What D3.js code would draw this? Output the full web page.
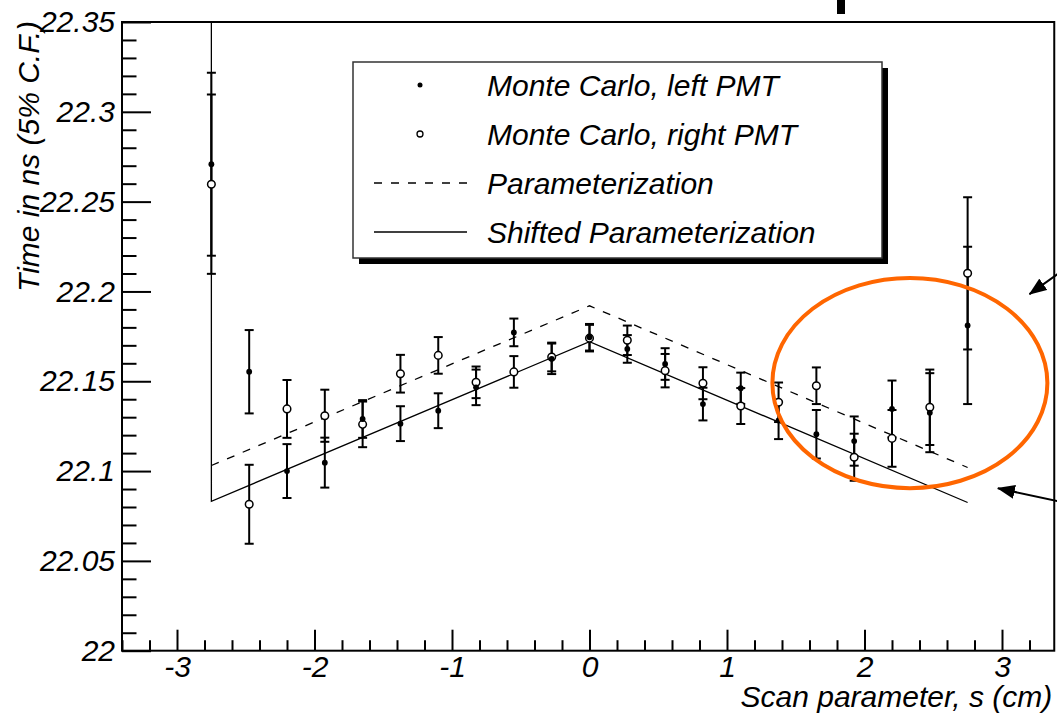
<!DOCTYPE html>
<html>
<head>
<meta charset="utf-8">
<script src="https://cdn.jsdelivr.net/npm/d3@7"></script>
<style>
  html, body { margin: 0; padding: 0; background: #fff; }
  svg { display: block; }
  text { font-family: "Liberation Sans", Arial, Helvetica, sans-serif; font-style: italic; fill: #000; }
</style>
</head>
<body>
<svg id="chart" width="1057" height="716"></svg>
<script>
// Scan positions (cm) of the simulated points
const scanS = [-2.75, -2.475, -2.2, -1.925, -1.65, -1.375, -1.1, -0.825, -0.55, -0.275,
               0, 0.275, 0.55, 0.825, 1.1, 1.375, 1.65, 1.925, 2.2, 2.475, 2.75];

// Monte Carlo, left PMT: time (ns) and error
const leftT   = [22.2708, 22.1553, 22.1000, 22.1047, 22.1290, 22.1264, 22.1336, 22.1466, 22.1772, 22.1625,
                 22.1745, 22.1680, 22.1596, 22.1373, 22.1461, 22.1282, 22.1205, 22.1167, 22.1346, 22.1325, 22.1811];
const leftErr = [0.0509, 0.0232, 0.0150, 0.0139, 0.0105, 0.0097, 0.0097, 0.0099, 0.0077, 0.0085,
                 0.0074, 0.0077, 0.0088, 0.0091, 0.0087, 0.0104, 0.0135, 0.0137, 0.0158, 0.0220, 0.0438];

// Monte Carlo, right PMT: time (ns) and error
const rightT   = [22.2597, 22.0815, 22.1346, 22.1308, 22.1260, 22.1542, 22.1644, 22.1494, 22.1552, 22.1635,
                  22.1740, 22.1728, 22.1559, 22.1489, 22.1362, 22.1383, 22.1475, 22.1077, 22.1182, 22.1355, 22.2101];
const rightErr = [0.0499, 0.0220, 0.0161, 0.0145, 0.0127, 0.0105, 0.0102, 0.0088, 0.0088, 0.0080,
                  0.0074, 0.0082, 0.0093, 0.0089, 0.0100, 0.0110, 0.0102, 0.0131, 0.0158, 0.0210, 0.0424];

// Parameterization and shifted parameterization (piecewise linear)
const paramS   = [-2.75, 0, 2.75];
const paramT   = [22.1031, 22.1920, 22.1020];
const shiftedS = [-2.75, -2.75, 0, 2.75];
const shiftedT = [22.40, 22.0832, 22.1720, 22.0825];

// Axis ticks
const xTickValues = [-3, -2, -1, 0, 1, 2, 3];
const xTickLabels = ["-3", "-2", "-1", "0", "1", "2", "3"];
const yTickValues = [22, 22.05, 22.1, 22.15, 22.2, 22.25, 22.3, 22.35];
const yTickLabels = ["22", "22.05", "22.1", "22.15", "22.2", "22.25", "22.3", "22.35"];

const legendLabels = ["Monte Carlo, left PMT", "Monte Carlo, right PMT", "Parameterization", "Shifted Parameterization"];

// Highlighted region (data units) and the two pointer arrows
const highlight = { s: 2.33, t: 22.149, ds: 1.0, dt: 0.0585 };
const arrows = [
  { from: [3.42, 22.2105], to: [3.20, 22.1985] },
  { from: [3.42, 22.0830], to: [2.97, 22.0904] }
];

const svg = d3.select("#chart");
const x = d3.scaleLinear().domain([-3.4, 3.4]).range([122, 1057]);
const y = d3.scaleLinear().domain([22, 22.35]).range([650.7, 22]);
const xLeft = x(-3.4), xRight = x(3.38), yTop = y(22.35), yBot = y(22);

// small dark bar at the very top edge
svg.append("rect").attr("x", 837).attr("y", 0).attr("width", 8).attr("height", 14).attr("fill", "#000");

// clipping for plotted lines
svg.append("defs").append("clipPath").attr("id", "frameClip")
  .append("rect").attr("x", xLeft).attr("y", yTop).attr("width", xRight - xLeft).attr("height", yBot - yTop);

const defs = svg.select("defs");
defs.append("marker").attr("id", "arrowHead")
  .attr("markerUnits", "userSpaceOnUse").attr("markerWidth", 18).attr("markerHeight", 14)
  .attr("refX", 17).attr("refY", 7).attr("orient", "auto")
  .append("path").attr("d", "M0,0 L18,7 L0,14 Z").attr("fill", "#000");

const plot = svg.append("g").attr("clip-path", "url(#frameClip)");

const line = d3.line().x(d => x(d[0])).y(d => y(d[1]));

plot.append("path")
  .attr("d", line(paramS.map((s, i) => [s, paramT[i]])))
  .attr("fill", "none").attr("stroke", "#000").attr("stroke-width", 1.3)
  .attr("stroke-dasharray", "8,9");

plot.append("path")
  .attr("d", line(shiftedS.map((s, i) => [s, shiftedT[i]])))
  .attr("fill", "none").attr("stroke", "#000").attr("stroke-width", 1.3);

// error bars
const capHalf = 4.5;
function errorBars(vals, errs) {
  const g = plot.append("g").attr("stroke", "#000").attr("stroke-width", 2);
  scanS.forEach((s, i) => {
    const cx = x(s), lo = y(vals[i] - errs[i]), hi = y(vals[i] + errs[i]);
    g.append("line").attr("x1", cx).attr("x2", cx).attr("y1", lo).attr("y2", hi);
    g.append("line").attr("x1", cx - capHalf).attr("x2", cx + capHalf).attr("y1", lo).attr("y2", lo);
    g.append("line").attr("x1", cx - capHalf).attr("x2", cx + capHalf).attr("y1", hi).attr("y2", hi);
  });
}
errorBars(rightT, rightErr);
errorBars(leftT, leftErr);

plot.append("g").selectAll("circle").data(scanS).join("circle")
  .attr("cx", d => x(d)).attr("cy", (d, i) => y(rightT[i]))
  .attr("r", 3.8).attr("fill", "#fff").attr("stroke", "#000").attr("stroke-width", 1.5);

plot.append("g").selectAll("circle").data(scanS).join("circle")
  .attr("cx", d => x(d)).attr("cy", (d, i) => y(leftT[i]))
  .attr("r", 2.9).attr("fill", "#000");

// axes (ticks drawn inward)
const fontSize = 30;
const xMinor = d3.range(-3.4, 3.39, 0.2).map(v => Math.round(v * 10) / 10).filter(v => !xTickValues.includes(v));
const yMinor = d3.range(22, 22.351, 0.01).map(v => Math.round(v * 100) / 100).filter(v => !yTickValues.some(t => Math.abs(t - v) < 1e-6));

const gx = svg.append("g").attr("transform", `translate(0,${yBot})`)
  .call(d3.axisBottom(x).tickValues(xTickValues).tickSize(-21).tickPadding(5)
    .tickFormat((d, i) => xTickLabels[i]));
const gxm = svg.append("g").attr("transform", `translate(0,${yBot})`)
  .call(d3.axisBottom(x).tickValues(xMinor).tickSize(-10.5).tickFormat(""));
const gy = svg.append("g").attr("transform", `translate(${xLeft},0)`)
  .call(d3.axisLeft(y).tickValues(yTickValues).tickSize(-29).tickPadding(7)
    .tickFormat((d, i) => yTickLabels[i]));
const gym = svg.append("g").attr("transform", `translate(${xLeft},0)`)
  .call(d3.axisLeft(y).tickValues(yMinor).tickSize(-14.5).tickFormat(""));

[gx, gxm, gy, gym].forEach(g => {
  g.select(".domain").remove();
  g.selectAll(".tick line").attr("stroke", "#000").attr("stroke-width", 2);
  g.selectAll("text").attr("font-size", fontSize)
    .attr("font-family", '"Liberation Sans", Arial, sans-serif').attr("font-style", "italic").attr("fill", "#000");
});

// frame
svg.append("rect").attr("x", xLeft).attr("y", yTop).attr("width", xRight - xLeft).attr("height", yBot - yTop)
  .attr("fill", "none").attr("stroke", "#000").attr("stroke-width", 2);

// axis titles
svg.append("text").attr("x", xRight - 2).attr("y", 707).attr("text-anchor", "end")
  .attr("font-size", fontSize).text("Scan parameter, s (cm)");
svg.append("text").attr("transform", `translate(39,${yTop - 1}) rotate(-90)`).attr("text-anchor", "end")
  .attr("font-size", fontSize).text("Time in ns (5% C.F.)");

// legend
const lg = { x: 353, y: 62, w: 529, h: 196 };
svg.append("rect").attr("x", lg.x + 6).attr("y", lg.y + 6).attr("width", lg.w).attr("height", lg.h).attr("fill", "#000");
svg.append("rect").attr("x", lg.x).attr("y", lg.y).attr("width", lg.w).attr("height", lg.h)
  .attr("fill", "#fff").attr("stroke", "#333").attr("stroke-width", 1.5);
const rowY = [85, 134, 183, 232];
legendLabels.forEach((lab, i) => {
  svg.append("text").attr("x", 487).attr("y", rowY[i]).attr("dy", "0.35em")
    .attr("font-size", fontSize).text(lab);
});
svg.append("circle").attr("cx", 420).attr("cy", rowY[0]).attr("r", 2.5).attr("fill", "#000");
svg.append("circle").attr("cx", 420).attr("cy", rowY[1]).attr("r", 3).attr("fill", "#fff").attr("stroke", "#000").attr("stroke-width", 1.3);
svg.append("line").attr("x1", 374).attr("x2", 467).attr("y1", rowY[2]).attr("y2", rowY[2])
  .attr("stroke", "#000").attr("stroke-width", 1.3).attr("stroke-dasharray", "8,9");
svg.append("line").attr("x1", 374).attr("x2", 467).attr("y1", rowY[3]).attr("y2", rowY[3])
  .attr("stroke", "#000").attr("stroke-width", 1.3);

// highlighted region
svg.append("ellipse")
  .attr("cx", x(highlight.s)).attr("cy", y(highlight.t))
  .attr("rx", x(highlight.s + highlight.ds) - x(highlight.s))
  .attr("ry", y(highlight.t) - y(highlight.t + highlight.dt))
  .attr("fill", "none").attr("stroke", "#ff6600").attr("stroke-width", 4);

// pointer arrows
arrows.forEach(a => {
  svg.append("line")
    .attr("x1", x(a.from[0])).attr("y1", y(a.from[1]))
    .attr("x2", x(a.to[0])).attr("y2", y(a.to[1]))
    .attr("stroke", "#000").attr("stroke-width", 2).attr("marker-end", "url(#arrowHead)");
});
</script>
</body>
</html>
